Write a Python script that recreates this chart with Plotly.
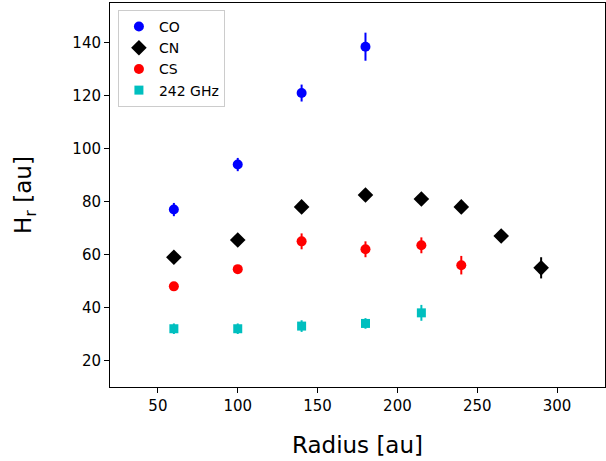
import plotly.graph_objects as go

co_x = [60, 100, 140, 180]
co_y = [77, 94, 121, 138.5]
co_err = [2.5, 2.5, 3.2, 5.3]

cn_x = [60, 100, 140, 180, 215, 240, 265, 290]
cn_y = [59, 65.5, 78, 82.5, 81, 78, 67, 55]
cn_err = [1, 1, 1, 1, 1, 1.5, 1.5, 4]

cs_x = [60, 100, 140, 180, 215, 240]
cs_y = [48, 54.5, 65, 62, 63.5, 56]
cs_err = [1, 1, 3, 3, 3, 3.5]

g_x = [60, 100, 140, 180, 215]
g_y = [32, 32, 33, 34, 38]
g_err = [2, 2, 2.2, 2, 3]

x_ticks = [50, 100, 150, 200, 250, 300]
y_ticks = [20, 40, 60, 80, 100, 120, 140]

font = "DejaVu Sans"

def trace(x, y, err, name, color, symbol, size):
    return go.Scatter(
        x=x, y=y, name=name, mode="markers",
        marker=dict(color=color, symbol=symbol, size=size, line=dict(width=0)),
        error_y=dict(type="data", array=err, color=color, thickness=2, width=0),
    )

fig = go.Figure()
fig.add_trace(trace(co_x, co_y, co_err, "CO", "#0000ff", "circle", 10))
fig.add_trace(trace(cn_x, cn_y, cn_err, "CN", "#000000", "diamond", 12))
fig.add_trace(trace(cs_x, cs_y, cs_err, "CS", "#ff0000", "circle", 10))
fig.add_trace(trace(g_x, g_y, g_err, "242 GHz", "#00bfbf", "square", 9))

axis_common = dict(
    showline=True, linecolor="black", linewidth=1, mirror=True,
    ticks="outside", ticklen=5, tickcolor="black", showgrid=False, zeroline=False,
    tickfont=dict(family=font, size=15, color="black"),
)

fig.update_layout(
    width=606, height=461,
    margin=dict(l=110, r=1, t=3, b=74),
    paper_bgcolor="white", plot_bgcolor="white",
    font=dict(family=font, color="black"),
    xaxis=dict(range=[20, 330], tickvals=x_ticks,
               title=dict(text="Radius [au]", font=dict(family=font, size=23), standoff=22),
               **axis_common),
    yaxis=dict(range=[10, 155], tickvals=y_ticks,
               title=dict(text="H<sub>r</sub> [au]", font=dict(family=font, size=23), standoff=34),
               **axis_common),
    legend=dict(x=0.016, y=0.982, xanchor="left", yanchor="top",
                bgcolor="rgba(255,255,255,0.8)", bordercolor="#cccccc", borderwidth=1,
                font=dict(family=font, size=14), itemwidth=30, tracegroupgap=0),
    showlegend=True,
)

fig.write_html("out.html", config={"displayModeBar": False},
               post_script="document.body.style.margin='0';")
